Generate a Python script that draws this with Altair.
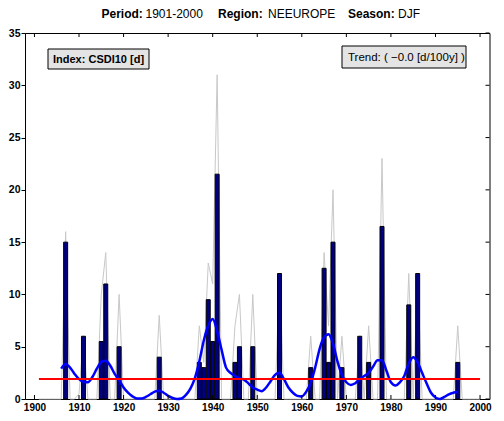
import altair as alt
import pandas as pd

# ---------------- data ----------------
all_years = list(range(1901, 2001))
gray_values = [
    0, 0, 0, 0, 0, 0, 16, 0, 0, 0.5,      # 1901-1910
    6, 0, 0, 0, 10, 14, 0, 0, 10, 0,      # 1911-1920
    0, 0, 0, 0, 0, 0, 0, 8, 0, 0,         # 1921-1930
    0, 0, 0, 0, 0, 0, 7, 3.5, 13, 11,     # 1931-1940
    31, 0, 0, 0, 7, 10, 0, 0, 10, 0,      # 1941-1950
    0, 0, 0, 0, 12, 0, 0, 0, 0, 0,        # 1951-1960
    0, 6, 0, 0, 14, 7, 20, 0, 6, 0,       # 1961-1970
    0, 0, 6, 0, 7, 0, 0, 23, 0, 0,        # 1971-1980
    0, 0, 0, 12, 0, 12, 0, 0, 0, 0,       # 1981-1990
    0, 0, 0, 0, 7, 0, 0, 0, 0, 0,         # 1991-2000
]

bar_years = [1907, 1911, 1915, 1916, 1919, 1928, 1937, 1938, 1939, 1940, 1941,
             1945, 1946, 1949, 1955, 1962, 1965, 1966, 1967, 1969, 1973, 1975,
             1978, 1984, 1986, 1995]
bar_values = [15, 6, 5.5, 11, 5, 4, 3.5, 3, 9.5, 5.5, 21.5,
              3.5, 5, 5, 12, 3, 12.5, 3.5, 15, 3, 6, 3.5,
              16.5, 9, 12, 3.5]

smooth_years = list(range(1906, 1996))
smooth_values = [
    2.9, 3.35, 3.0, 2.4, 1.9, 1.65, 1.6, 2.1, 2.9, 3.55,     # 1906-1915
    3.65, 3.2, 2.4, 1.8, 1.1, 0.6, 0.25, 0.05, 0.05, 0.2,    # 1916-1925
    0.45, 0.7, 0.78, 0.6, 0.3, 0.1, 0.0, 0.05, 0.4, 1.0,     # 1926-1935
    2.0, 3.6, 5.6, 7.0, 7.65, 6.5, 4.7, 3.0, 2.5, 2.2,       # 1936-1945
    2.0, 1.85, 1.5, 1.1, 0.9, 0.75, 1.1, 1.7, 2.3, 2.5,      # 1946-1955
    1.9, 1.1, 0.6, 0.3, 0.25, 0.7, 1.55, 3.0, 4.8, 5.9,      # 1956-1965
    6.2, 5.3, 3.6, 2.3, 1.6, 1.35, 1.5, 1.9, 2.2, 2.5,       # 1966-1975
    3.1, 3.7, 3.7, 2.7, 1.6, 1.3, 1.6, 2.2, 3.4, 4.0,        # 1976-1985
    3.5, 2.5, 1.5, 0.6, 0.15, 0.0, 0.2, 0.45, 0.6, 0.67,     # 1986-1995
]

trend_years = [1901, 2000]
trend_values = [1.92, 1.92]

x_ticks = list(range(1900, 2001, 10))
y_ticks = list(range(0, 36, 5))

title_parts = ["Period:", "1901-2000", "Region:", "NEEUROPE", "Season:", "DJF"]
title_weights = ["bold", "normal", "bold", "normal", "bold", "normal"]
title_x = [76.5, 120.5, 193, 243, 323, 373]

index_label = "Index: CSDI10 [d]"
trend_label = "Trend: ( \u22120.0 [d/100y] )"

# ---------------- chart ----------------
W, H = 464.5, 366
FONT = "Liberation Sans"

xs = alt.Scale(domain=[1899, 2001], nice=False, zero=False)
ys = alt.Scale(domain=[0, 35], nice=False)

gray_df = pd.DataFrame({"year": all_years, "value": gray_values})
bar_df = pd.DataFrame({"year": bar_years, "value": bar_values})
smooth_df = pd.DataFrame({"year": smooth_years, "value": smooth_values})
trend_df = pd.DataFrame({"year": trend_years, "value": trend_values})
xt_df = pd.DataFrame({"t": x_ticks})
yt_df = pd.DataFrame({"t": y_ticks})

x_axis = alt.Axis(values=x_ticks, format="d", title=None, ticks=False, domain=False,
                  grid=False, labelFont=FONT, labelFontSize=10, labelFontWeight="bold",
                  labelColor="black", labelPadding=3, labelFlush=False, labelOverlap=False)
y_axis = alt.Axis(values=y_ticks, title=None, ticks=True, tickSize=4, tickColor="black",
                  domain=False, grid=False, labelFont=FONT, labelFontSize=10.5,
                  labelFontWeight="bold", labelColor="black", labelPadding=1, labelFlush=False)

gray = alt.Chart(gray_df).mark_line(color="#c8c8c8", strokeWidth=1).encode(
    x=alt.X("year:Q", scale=xs, axis=x_axis),
    y=alt.Y("value:Q", scale=ys, axis=y_axis),
)

bars = alt.Chart(bar_df).mark_bar(size=4, color="#000080", stroke="black", strokeWidth=1).encode(
    x=alt.X("year:Q", scale=xs),
    y=alt.Y("value:Q", scale=ys),
)

smooth = alt.Chart(smooth_df).mark_line(color="#0000ff", strokeWidth=2.5,
                                        interpolate="monotone").encode(
    x=alt.X("year:Q", scale=xs),
    y=alt.Y("value:Q", scale=ys),
)

trend = alt.Chart(trend_df).mark_line(color="#ff0000", strokeWidth=2).encode(
    x=alt.X("year:Q", scale=xs),
    y=alt.Y("value:Q", scale=ys),
)

bottom_ticks = alt.Chart(xt_df).mark_rule(color="black", strokeWidth=1).encode(
    x=alt.X("t:Q", scale=xs), y=alt.value(H), y2=alt.value(H - 4))
top_ticks = alt.Chart(xt_df).mark_rule(color="black", strokeWidth=1).encode(
    x=alt.X("t:Q", scale=xs), y=alt.value(0), y2=alt.value(4))
right_ticks = alt.Chart(yt_df).mark_rule(color="black", strokeWidth=1).encode(
    y=alt.Y("t:Q", scale=ys), x=alt.value(W), x2=alt.value(W - 4))

one = pd.DataFrame({"k": [0]})

index_box = alt.Chart(one).mark_rect(fill="#e4e4e4", stroke="black", strokeWidth=1).encode(
    x=alt.value(23), x2=alt.value(124), y=alt.value(16), y2=alt.value(36))
index_text = alt.Chart(one).mark_text(text=index_label, font=FONT, fontSize=11,
                                      fontWeight="bold", align="left", baseline="middle",
                                      color="black").encode(x=alt.value(28), y=alt.value(26.5))

trend_box = alt.Chart(one).mark_rect(fill="#e4e4e4", stroke="black", strokeWidth=1).encode(
    x=alt.value(317), x2=alt.value(441), y=alt.value(13), y2=alt.value(35))
trend_text = alt.Chart(one).mark_text(text=trend_label, font=FONT, fontSize=11.5,
                                      align="left", baseline="middle",
                                      color="black").encode(x=alt.value(323), y=alt.value(24.5))

title_layers = []
for part, weight, px in zip(title_parts, title_weights, title_x):
    title_layers.append(
        alt.Chart(one).mark_text(text=part, font=FONT, fontSize=12, fontWeight=weight,
                                 align="left", baseline="middle", color="black")
        .encode(x=alt.value(px), y=alt.value(-19))
    )

chart = alt.layer(
    gray, bars, smooth, trend, bottom_ticks, top_ticks, right_ticks,
    index_box, index_text, trend_box, trend_text, *title_layers
).properties(
    width=W, height=H,
    padding={"left": 17, "top": 25, "right": 6.5, "bottom": 14},
    autosize=alt.AutoSizeParams(type="none"),
    background="white",
).configure_view(stroke="black", strokeWidth=1)

chart.save("out.html", embed_options={"renderer": "svg", "actions": False})
